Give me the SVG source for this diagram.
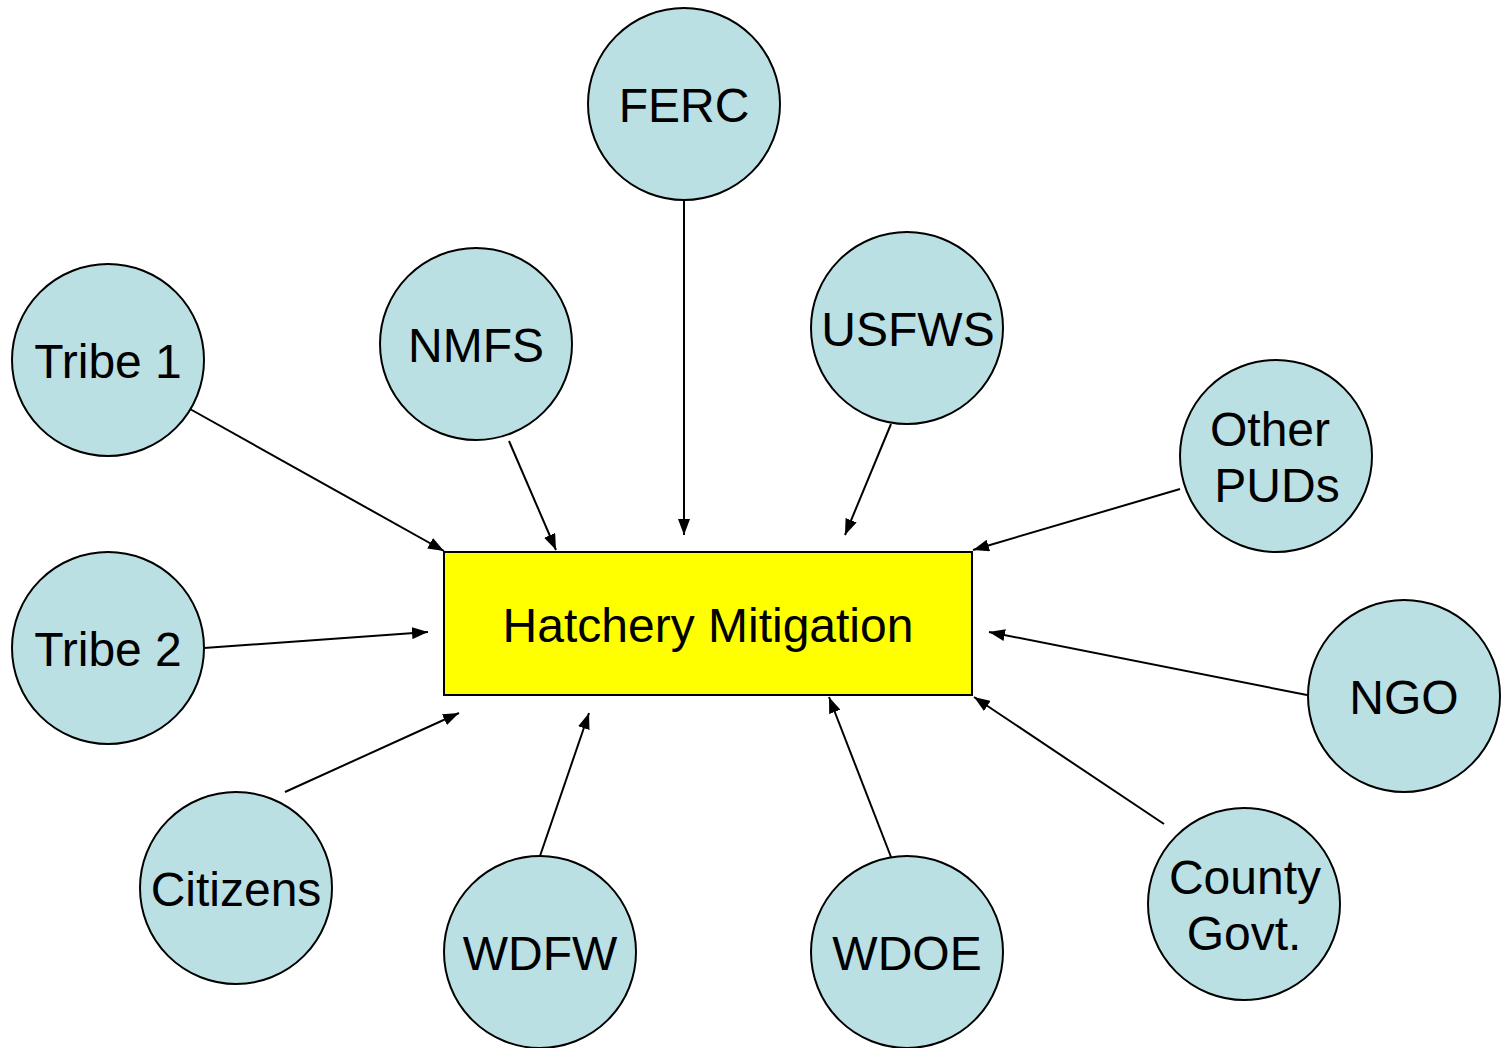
<svg xmlns="http://www.w3.org/2000/svg" width="1507" height="1048" viewBox="0 0 1507 1048">
<defs>
<style>
.node circle{fill:#BAE0E3;stroke:#000;stroke-width:2}
text{font-family:"Liberation Sans",Arial,sans-serif;font-size:48px;fill:#000;text-anchor:middle}
.conn line{stroke:#000;stroke-width:2;marker-end:url(#ah)}
</style>
<marker id="ah" viewBox="0 0 16 12" refX="16" refY="6" markerWidth="16" markerHeight="12" markerUnits="userSpaceOnUse" orient="auto">
<path d="M0,0 L16,6 L0,12 Z" fill="#000"/>
</marker>
</defs>
<rect width="1507" height="1048" fill="#fff"/>
<g id="hatchery" class="center">
<rect x="444" y="552" width="528" height="143" fill="#FFFF00" stroke="#000" stroke-width="2"/>
<text x="708" y="642">Hatchery Mitigation</text>
</g>
<g id="connectors" class="conn">
<line x1="190" y1="409" x2="444" y2="551"/>
<line x1="509" y1="441" x2="556" y2="550"/>
<line x1="684" y1="200" x2="684" y2="535"/>
<line x1="891" y1="424" x2="845" y2="535"/>
<line x1="1180" y1="489" x2="973" y2="550"/>
<line x1="204" y1="648" x2="428" y2="632"/>
<line x1="1307" y1="695" x2="989" y2="632"/>
<line x1="285" y1="792" x2="459" y2="713"/>
<line x1="540" y1="856" x2="589" y2="713"/>
<line x1="891" y1="857" x2="829" y2="697"/>
<line x1="1164" y1="824" x2="974" y2="697"/>
</g>
<g id="ferc" class="node"><circle cx="684" cy="104" r="96"/><text x="684" y="122">FERC</text></g>
<g id="tribe1" class="node"><circle cx="108" cy="360" r="96"/><text x="108" y="378">Tribe 1</text></g>
<g id="nmfs" class="node"><circle cx="476" cy="344" r="96"/><text x="476" y="362">NMFS</text></g>
<g id="usfws" class="node"><circle cx="907" cy="328" r="96"/><text x="908" y="346">USFWS</text></g>
<g id="otherpuds" class="node"><circle cx="1276" cy="456" r="96"/><text x="1270" y="446">Other</text><text x="1277" y="502">PUDs</text></g>
<g id="tribe2" class="node"><circle cx="108" cy="648" r="96"/><text x="108" y="666">Tribe 2</text></g>
<g id="ngo" class="node"><circle cx="1404" cy="696" r="96"/><text x="1404" y="714">NGO</text></g>
<g id="citizens" class="node"><circle cx="236" cy="888" r="96"/><text x="236" y="906">Citizens</text></g>
<g id="wdfw" class="node"><circle cx="540" cy="952" r="96"/><text x="540" y="970">WDFW</text></g>
<g id="wdoe" class="node"><circle cx="907" cy="952" r="96"/><text x="907" y="970">WDOE</text></g>
<g id="county" class="node"><circle cx="1244" cy="904" r="96"/><text x="1245" y="894">County</text><text x="1244" y="950">Govt.</text></g>
</svg>
